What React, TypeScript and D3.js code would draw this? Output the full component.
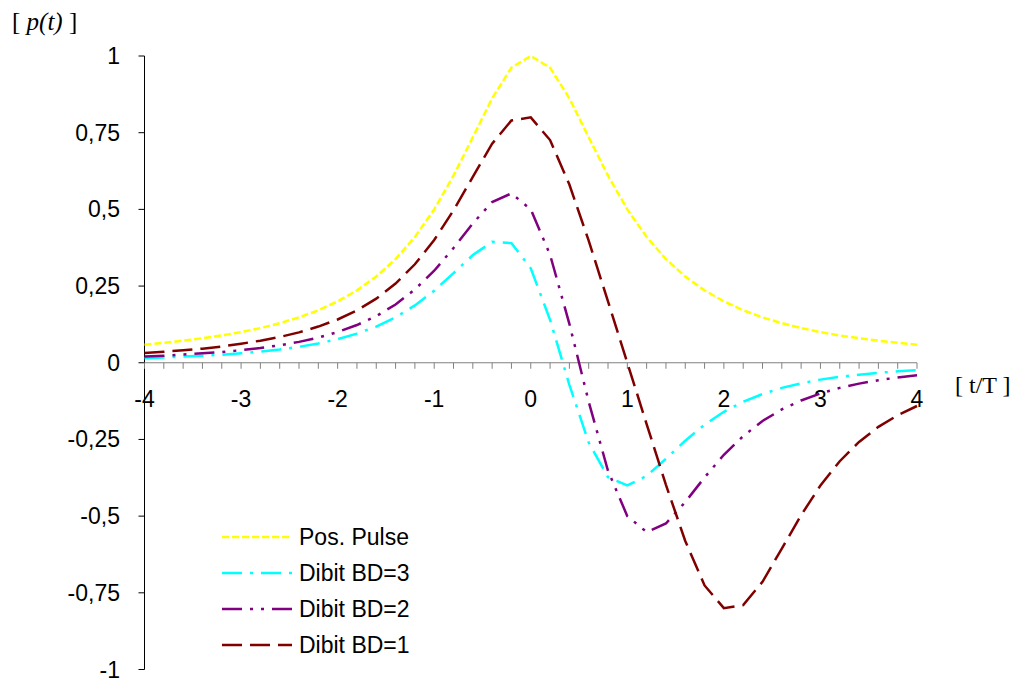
import React from "react";
import * as d3 from "d3";

const tValues = [
  -4, -3.8, -3.6, -3.4, -3.2, -3, -2.8, -2.6, -2.4, -2.2, -2, -1.8, -1.6, -1.4, -1.2, -1, -0.8, -0.6, -0.4, -0.2,
  0, 0.2, 0.4, 0.6, 0.8, 1, 1.2, 1.4, 1.6, 1.8, 2, 2.2, 2.4, 2.6, 2.8, 3, 3.2, 3.4, 3.6, 3.8, 4,
];

const posPulse = [
  0.059, 0.065, 0.072, 0.08, 0.089, 0.1, 0.113, 0.129, 0.148, 0.171, 0.2, 0.236, 0.281, 0.338, 0.41, 0.5, 0.61, 0.735, 0.862, 0.962,
  1, 0.962, 0.862, 0.735, 0.61, 0.5, 0.41, 0.338, 0.281, 0.236, 0.2, 0.171, 0.148, 0.129, 0.113, 0.1, 0.089, 0.08, 0.072, 0.065, 0.059,
];

const dibitBD3 = [
  0.015, 0.017, 0.02, 0.023, 0.026, 0.031, 0.036, 0.043, 0.052, 0.063, 0.077, 0.095, 0.118, 0.148, 0.187, 0.235, 0.292, 0.351, 0.394, 0.39,
  0.308, 0.14, -0.072, -0.26, -0.373, -0.4, -0.369, -0.313, -0.254, -0.202, -0.16, -0.127, -0.102, -0.082, -0.067, -0.055, -0.046, -0.039, -0.033, -0.028, -0.024,
];

const dibitBD2 = [
  0.02, 0.023, 0.027, 0.031, 0.035, 0.041, 0.048, 0.057, 0.068, 0.082, 0.1, 0.123, 0.152, 0.19, 0.239, 0.3, 0.374, 0.454, 0.524, 0.552,
  0.5, 0.352, 0.127, -0.127, -0.352, -0.5, -0.552, -0.524, -0.454, -0.374, -0.3, -0.239, -0.19, -0.152, -0.123, -0.1, -0.082, -0.068, -0.057, -0.048, -0.041,
];

const dibitBD1 = [
  0.032, 0.036, 0.041, 0.046, 0.053, 0.062, 0.072, 0.084, 0.099, 0.118, 0.141, 0.171, 0.209, 0.258, 0.321, 0.4, 0.497, 0.606, 0.714, 0.79,
  0.8, 0.726, 0.581, 0.398, 0.2, 0, -0.2, -0.398, -0.581, -0.726, -0.8, -0.79, -0.714, -0.606, -0.497, -0.4, -0.321, -0.258, -0.209, -0.171, -0.141,
];

const yTicks = [1, 0.75, 0.5, 0.25, 0, -0.25, -0.5, -0.75, -1];
const yTickLabels = ["1", "0,75", "0,5", "0,25", "0", "-0,25", "-0,5", "-0,75", "-1"];
const xTicks = [-4, -3, -2, -1, 0, 1, 2, 3, 4];
const xTickLabels = ["-4", "-3", "-2", "-1", "0", "1", "2", "3", "4"];

const seriesNames = ["Pos. Pulse", "Dibit BD=3", "Dibit BD=2", "Dibit BD=1"];
const seriesColors = ["#FFFF00", "#00FFFF", "#800080", "#800000"];
const seriesDash = ["7,3", "20,8,3,8", "20,8,3,8,3,8", "20,8"];
const seriesData = [posPulse, dibitBD3, dibitBD2, dibitBD1];

export default function App() {
  const W = 1021;
  const H = 679;
  const x = d3.scaleLinear().domain([-4, 4]).range([144.5, 917]);
  const y = d3.scaleLinear().domain([-1, 1]).range([669.5, 56]);
  const line = d3
    .line<number>()
    .x((_, i) => x(tValues[i]))
    .y((d) => y(d));

  const minorTicks = d3.range(0, 41).map((i) => -4 + i * 0.2);

  const serif = "'Times New Roman', 'Liberation Serif', serif";

  return (
    <svg
      width={W}
      height={H}
      style={{ position: "absolute", left: 0, top: 0, background: "#fff" }}
      fontFamily="Arial, 'Liberation Sans', sans-serif"
    >
      <rect x={0} y={0} width={W} height={H} fill="#fff" />
      {/* y axis */}
      <line x1={x(-4)} x2={x(-4)} y1={y(1)} y2={y(-1)} stroke="#000" strokeWidth={1} />
      {yTicks.map((v, i) => (
        <g key={"yt" + i}>
          <line x1={x(-4) - 6} x2={x(-4)} y1={y(v)} y2={y(v)} stroke="#000" strokeWidth={1} />
          <text x={120} y={y(v)} dy="0.35em" textAnchor="end" fontSize={23} fill="#000">
            {yTickLabels[i]}
          </text>
        </g>
      ))}
      {/* x axis */}
      <line x1={x(-4)} x2={x(4)} y1={y(0)} y2={y(0)} stroke="#808080" strokeWidth={1} />
      {minorTicks.map((v, i) => (
        <line key={"xt" + i} x1={x(v)} x2={x(v)} y1={y(0)} y2={y(0) + 6} stroke="#808080" strokeWidth={1} />
      ))}
      {xTicks.map((v, i) => (
        <text key={"xl" + i} x={x(v)} y={407} textAnchor="middle" fontSize={23} fill="#000">
          {xTickLabels[i]}
        </text>
      ))}
      {/* series */}
      {seriesData.map((data, s) => (
        <path
          key={"s" + s}
          d={line(data) || ""}
          fill="none"
          stroke={seriesColors[s]}
          strokeWidth={2.5}
          strokeDasharray={seriesDash[s]}
        />
      ))}
      {/* axis titles */}
      <text x={12} y={30} fontFamily={serif} fontSize={25} fill="#000">
        {"[ "}
        <tspan fontStyle="italic">p(t)</tspan>
        {" ]"}
      </text>
      <text x={955} y={393} fontFamily={serif} fontSize={24} fill="#000">
        [ t/T ]
      </text>
      {/* legend */}
      {seriesNames.map((name, i) => {
        const ly = 537 + i * 36;
        return (
          <g key={"lg" + i}>
            <line
              x1={222}
              x2={292}
              y1={ly}
              y2={ly}
              stroke={seriesColors[i]}
              strokeWidth={2.5}
              strokeDasharray={seriesDash[i]}
            />
            <text x={299} y={ly} dy="0.35em" fontSize={23} fill="#000">
              {name}
            </text>
          </g>
        );
      })}
    </svg>
  );
}
